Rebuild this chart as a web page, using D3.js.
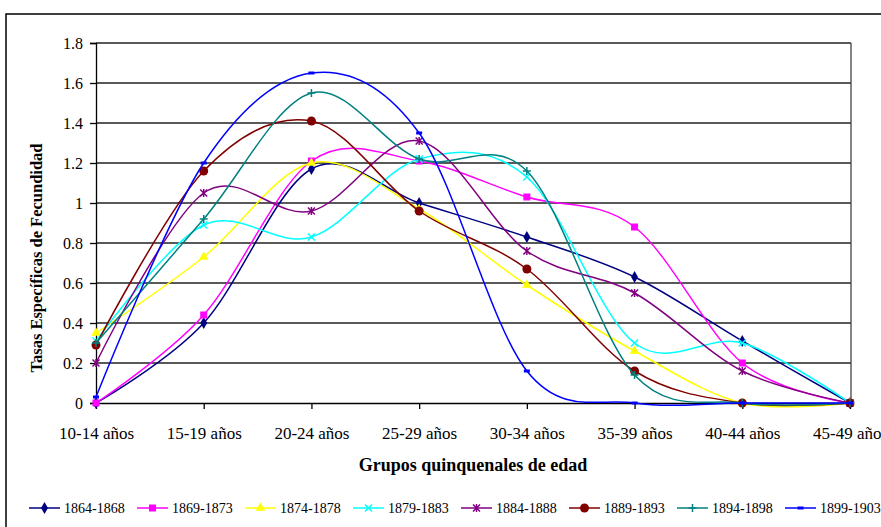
<!DOCTYPE html>
<html>
<head>
<meta charset="utf-8">
<script src="https://cdn.jsdelivr.net/npm/d3@7"></script>
<style>
  body { margin: 0; background: #fff; }
  svg { display: block; font-family: "Liberation Serif", "Times New Roman", serif; }
</style>
</head>
<body>
<svg width="881" height="527"></svg>
<script>
const categories = ["10-14 años", "15-19 años", "20-24 años", "25-29 años",
    "30-34 años", "35-39 años", "40-44 años", "45-49 años"];
const seriesNames = ["1864-1868", "1869-1873", "1874-1878", "1879-1883",
    "1884-1888", "1889-1893", "1894-1898", "1899-1903"];

const s1864 = [0.00, 0.40, 1.17, 1.00, 0.83, 0.63, 0.31, 0.00];
const s1869 = [0.00, 0.44, 1.21, 1.21, 1.03, 0.88, 0.20, 0.00];
const s1874 = [0.35, 0.73, 1.20, 0.97, 0.59, 0.26, 0.00, 0.00];
const s1879 = [0.31, 0.89, 0.83, 1.22, 1.13, 0.30, 0.30, 0.00];
const s1884 = [0.20, 1.05, 0.96, 1.31, 0.76, 0.55, 0.16, 0.00];
const s1889 = [0.29, 1.16, 1.41, 0.96, 0.67, 0.16, 0.00, 0.00];
const s1894 = [0.30, 0.92, 1.55, 1.22, 1.16, 0.14, 0.00, 0.00];
const s1899 = [0.03, 1.20, 1.65, 1.35, 0.16, 0.00, 0.00, 0.00];

const yTicks = [0, 0.2, 0.4, 0.6, 0.8, 1, 1.2, 1.4, 1.6, 1.8];

const seriesValues = [s1864, s1869, s1874, s1879, s1884, s1889, s1894, s1899];
const colors = ["#000080", "#ff00ff", "#ffff00", "#00ffff", "#800080", "#800000", "#008080", "#0000ff"];
const markers = ["diamond", "square", "triangle", "x", "asterisk", "circle", "plus", "dash"];

const svg = d3.select("svg");

// outer chart border
svg.append("rect")
    .attr("x", 6).attr("y", 14)
    .attr("width", 900).attr("height", 600)
    .attr("fill", "none").attr("stroke", "#000").attr("stroke-width", 1.5);

const x = d3.scalePoint().domain(categories).range([96, 850]);
const y = d3.scaleLinear().domain([0, 1.8]).range([403, 43]);

// gridlines
svg.append("g")
    .selectAll("line")
    .data(yTicks.filter(d => d > 0))
    .join("line")
    .attr("x1", 96).attr("x2", 851)
    .attr("y1", d => y(d)).attr("y2", d => y(d))
    .attr("stroke", "#222").attr("stroke-width", 1.3);

// right border of plot area
svg.append("line")
    .attr("x1", 851).attr("x2", 851).attr("y1", y(1.8)).attr("y2", y(0))
    .attr("stroke", "#444").attr("stroke-width", 1.3);

const yAxis = svg.append("g")
    .attr("transform", "translate(96,0)")
    .call(d3.axisLeft(y).tickValues(yTicks).tickSize(6).tickPadding(7)
        .tickFormat(d => String(+d.toFixed(1))));
yAxis.selectAll("text").attr("font-size", 16).attr("fill", "#000")
    .attr("font-family", "Liberation Serif");
yAxis.selectAll("line, path").attr("stroke", "#000").attr("stroke-width", 1.3);

const xAxis = svg.append("g")
    .attr("transform", "translate(0,403)")
    .call(d3.axisBottom(x).tickSize(6).tickPadding(18).tickSizeOuter(0));
xAxis.selectAll("text").attr("font-size", 17).attr("fill", "#000")
    .attr("font-family", "Liberation Serif");
xAxis.selectAll("line, path").attr("stroke", "#000").attr("stroke-width", 1.3);

// axis titles
svg.append("text")
    .attr("x", 473).attr("y", 471)
    .attr("text-anchor", "middle")
    .attr("font-size", 18).attr("font-weight", "bold")
    .text("Grupos quinquenales de edad");

svg.append("text")
    .attr("transform", "translate(42,258) rotate(-90)")
    .attr("text-anchor", "middle")
    .attr("font-size", 16.5).attr("font-weight", "bold")
    .text("Tasas Específicas de Fecundidad");

function drawMarker(g, type, color) {
    if (type === "diamond") {
        g.append("path").attr("d", d3.symbol(d3.symbolDiamond, 42)()).attr("fill", color);
    } else if (type === "square") {
        g.append("rect").attr("x", -3.5).attr("y", -3.5).attr("width", 7).attr("height", 7).attr("fill", color);
    } else if (type === "triangle") {
        g.append("path").attr("d", d3.symbol(d3.symbolTriangle, 40)()).attr("fill", color);
    } else if (type === "circle") {
        g.append("circle").attr("r", 4.5).attr("fill", color);
    } else if (type === "dash") {
        g.append("rect").attr("x", -3).attr("y", -1.5).attr("width", 6).attr("height", 3).attr("fill", color);
    } else {
        let segs = [];
        if (type === "x" || type === "asterisk") segs.push([-3.5, -3.5, 3.5, 3.5], [-3.5, 3.5, 3.5, -3.5]);
        if (type === "asterisk") segs.push([0, -4, 0, 4]);
        if (type === "plus") segs.push([-4, 0, 4, 0], [0, -4, 0, 4]);
        segs.forEach(s => g.append("line")
            .attr("x1", s[0]).attr("y1", s[1]).attr("x2", s[2]).attr("y2", s[3])
            .attr("stroke", color).attr("stroke-width", 1.5));
    }
}

const line = d3.line()
    .x((d, i) => x(categories[i]))
    .y(d => y(d))
    .curve(d3.curveCardinal.tension(0));

seriesValues.forEach((vals, k) => {
    const g = svg.append("g").attr("class", "series");
    g.append("path")
        .attr("d", line(vals))
        .attr("fill", "none")
        .attr("stroke", colors[k])
        .attr("stroke-width", 1.5);
    vals.forEach((v, i) => {
        const m = g.append("g").attr("transform", `translate(${x(categories[i])},${y(v)})`);
        drawMarker(m, markers[k], colors[k]);
    });
});

// legend
const legend = svg.append("g");
seriesNames.forEach((name, k) => {
    const lx = 29 + k * 108;
    const item = legend.append("g").attr("transform", `translate(${lx},508)`);
    item.append("line").attr("x1", 0).attr("x2", 31).attr("y1", 0).attr("y2", 0)
        .attr("stroke", colors[k]).attr("stroke-width", 1.5);
    drawMarker(item.append("g").attr("transform", "translate(15.5,0)"), markers[k], colors[k]);
    item.append("text").attr("x", 35).attr("y", 5)
        .attr("font-size", 14).text(name);
});
</script>
</body>
</html>
